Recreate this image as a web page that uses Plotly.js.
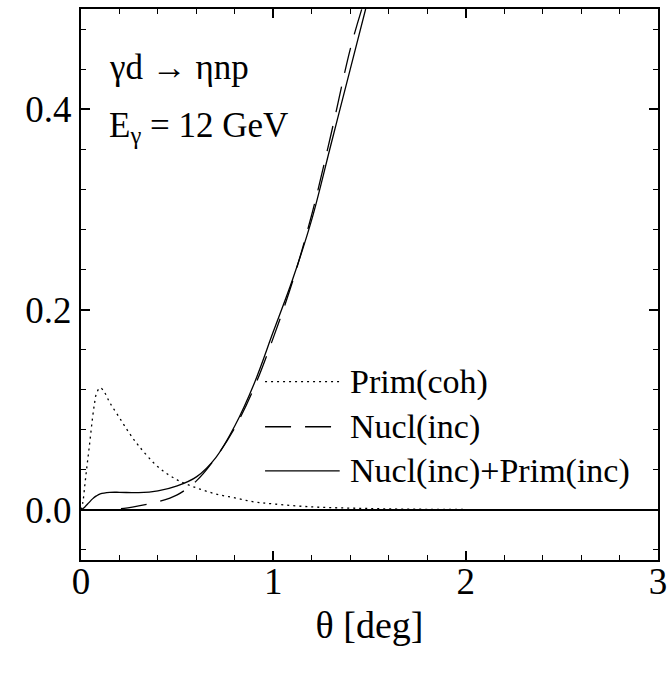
<!DOCTYPE html>
<html>
<head>
<meta charset="utf-8">
<script src="https://cdn.plot.ly/plotly-3.0.1.min.js"></script>
<style>
#chart text { font-family: 'Liberation Serif', 'Times New Roman', serif !important; }
#fontprime { position: absolute; left: 0; top: 0; font-family: 'Liberation Serif'; font-size: 36px; opacity: 0; pointer-events: none; }
</style>
</head>
<body style="margin:0;background:#fff">
<div id="fontprime">θ</div>
<div id="chart"></div>
<script>
// Prim(coh)
const thetaCoh = [0, 0.01, 0.02, 0.03, 0.04, 0.05, 0.06, 0.07, 0.08, 0.1, 0.12, 0.15, 0.2, 0.25, 0.3, 0.4, 0.5, 0.6, 0.7, 0.8, 0.9, 1.0, 1.2, 1.4, 1.6, 1.8, 2.0];
const primCoh  = [0, 0.008, 0.025, 0.042, 0.058, 0.075, 0.092, 0.106, 0.116, 0.122, 0.118, 0.107, 0.092, 0.077, 0.064, 0.043, 0.030, 0.022, 0.016, 0.012, 0.008, 0.006, 0.003, 0.0018, 0.001, 0.0006, 0.0004];
// Nucl(inc)
const thetaNucl = [0, 0.1, 0.2, 0.3, 0.4, 0.5, 0.6, 0.7, 0.8, 0.9, 1.0, 1.1, 1.2, 1.3, 1.4, 1.46];
const nuclInc   = [0, 0.0002, 0.001, 0.004, 0.008, 0.015, 0.029, 0.052, 0.082, 0.122, 0.172, 0.228, 0.295, 0.375, 0.46, 0.5];
// Nucl(inc)+Prim(inc)
const thetaSum = [0, 0.02, 0.04, 0.06, 0.08, 0.1, 0.15, 0.2, 0.3, 0.4, 0.5, 0.6, 0.7, 0.8, 0.9, 1.0, 1.1, 1.2, 1.3, 1.4, 1.48];
const nuclPrim = [0, 0.003, 0.007, 0.011, 0.014, 0.016, 0.0175, 0.0176, 0.0172, 0.019, 0.024, 0.033, 0.052, 0.084, 0.126, 0.178, 0.23, 0.29, 0.365, 0.44, 0.5];

const legendNames = ['Prim(coh)', 'Nucl(inc)', 'Nucl(inc)+Prim(inc)'];
const legendDash = ['2px,4px', '26px,14px', 'solid'];
const legendY = [0.128, 0.083, 0.039];

const FONT = 'Liberation Serif';

const traces = [
  {x: thetaCoh, y: primCoh, mode: 'lines', line: {color: '#000', width: 1.3, dash: legendDash[0], shape: 'spline'}, name: legendNames[0], showlegend: false},
  {x: thetaNucl, y: nuclInc, mode: 'lines', line: {color: '#000', width: 1.3, dash: legendDash[1], shape: 'spline'}, name: legendNames[1], showlegend: false},
  {x: thetaSum, y: nuclPrim, mode: 'lines', line: {color: '#000', width: 1.3, dash: legendDash[2], shape: 'spline'}, name: legendNames[2], showlegend: false}
];

const shapes = [];
const annotations = [];
for (let i = 0; i < 3; i++) {
  shapes.push({type: 'line', xref: 'x', yref: 'y', x0: 0.957, x1: 1.345, y0: legendY[i], y1: legendY[i],
    line: {color: '#000', width: 1.3, dash: legendDash[i]}});
  annotations.push({xref: 'x', yref: 'y', x: 1.39, y: legendY[i], xanchor: 'left', yanchor: 'middle',
    text: legendNames[i], showarrow: false, font: {family: FONT, size: 34, color: '#000'}});
}
annotations.push({xref: 'paper', yref: 'paper', x: 0.045, y: 0.893, xanchor: 'left', yanchor: 'middle',
  text: 'γd → ηnp', showarrow: false, font: {family: FONT, size: 35, color: '#000'}});
annotations.push({xref: 'paper', yref: 'paper', x: 0.045, y: 0.785, xanchor: 'left', yanchor: 'middle',
  text: 'E<sub>γ</sub> = 12 GeV', showarrow: false, font: {family: FONT, size: 35, color: '#000'}});

const layout = {
  width: 669, height: 677,
  margin: {l: 81, r: 11, t: 9, b: 117},
  paper_bgcolor: '#fff', plot_bgcolor: '#fff',
  font: {family: FONT, color: '#000', size: 36},
  showlegend: false,
  xaxis: {
    range: [0, 3], dtick: 1, tick0: 0, ticks: 'inside', ticklen: 9, tickwidth: 1.5, tickcolor: '#000',
    showline: true, linecolor: '#000', linewidth: 2, mirror: 'allticks', showgrid: false, zeroline: false,
    minor: {dtick: 0.2, ticks: 'inside', ticklen: 5, tickwidth: 1.2, tickcolor: '#000', showgrid: false},
    ticklabelstandoff: -12,
    tickfont: {family: FONT, size: 37, color: '#000'},
    title: {text: 'θ [deg]', standoff: 10, font: {family: FONT, size: 38, color: '#000'}}
  },
  yaxis: {
    range: [-0.05, 0.5], dtick: 0.2, tick0: 0, tickformat: '.1f', ticks: 'inside', ticklen: 9, tickwidth: 1.5, tickcolor: '#000',
    showline: true, linecolor: '#000', linewidth: 2, mirror: 'allticks', showgrid: false,
    zeroline: true, zerolinecolor: '#000', zerolinewidth: 1.6,
    minor: {dtick: 0.04, ticks: 'inside', ticklen: 5, tickwidth: 1.2, tickcolor: '#000', showgrid: false},
    tickfont: {family: FONT, size: 37, color: '#000'}
  },
  shapes: shapes,
  annotations: annotations
};

Plotly.newPlot('chart', traces, layout, {displayModeBar: false});
</script>
</body>
</html>
